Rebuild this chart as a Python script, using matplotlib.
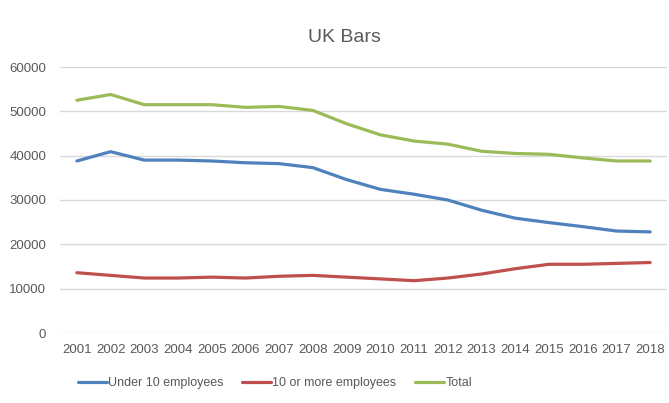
import matplotlib.pyplot as plt

years = list(range(2001, 2019))
under_10 = [38800, 40900, 39000, 39000, 38800, 38400, 38200, 37300, 34600,
            32400, 31300, 30000, 27700, 25900, 24900, 24000, 23000, 22800]
ten_plus = [13600, 13000, 12400, 12400, 12600, 12400, 12800, 13000, 12600,
            12200, 11800, 12400, 13300, 14500, 15500, 15500, 15700, 15900]
total = [52500, 53800, 51500, 51500, 51500, 50900, 51100, 50200, 47200,
         44700, 43300, 42600, 41000, 40500, 40300, 39500, 38800, 38800]

plt.rcParams['font.family'] = ['Liberation Sans', 'DejaVu Sans']

fig = plt.figure(figsize=(6.69, 4.03), dpi=100)
ax = fig.add_axes([60 / 669, 1 - 333 / 403, 607 / 669, 266 / 403])

ax.plot(years, under_10, color='#4F81BD', lw=2.3, label='Under 10 employees', solid_capstyle='round')
ax.plot(years, ten_plus, color='#C0504D', lw=2.3, label='10 or more employees', solid_capstyle='round')
ax.plot(years, total, color='#9BBB59', lw=2.3, label='Total', solid_capstyle='round')

ax.set_xlim(2000.5, 2018.5)
ax.set_ylim(0, 60000)
ax.set_yticks(range(0, 60001, 10000))
ax.set_xticks(years)
ax.grid(axis='y', color='#D9D9D9', lw=1)
ax.set_axisbelow(True)
for s in ax.spines.values():
    s.set_visible(False)
ax.tick_params(length=0, labelsize=9.5, colors='#595959')
ax.tick_params(axis='y', pad=10)
ax.tick_params(axis='x', pad=8)

fig.text(344 / 669, 1 - 38 / 403, 'UK Bars', ha='center', va='center',
         fontsize=14, color='#595959')

leg = fig.legend(loc='center', bbox_to_anchor=(275 / 669, 1 - 383 / 403), ncol=3,
                 frameon=False, handlelength=2.3, columnspacing=1.5,
                 handletextpad=0.1, labelcolor='#595959', fontsize=9)

fig.savefig('out.png', dpi=100)
